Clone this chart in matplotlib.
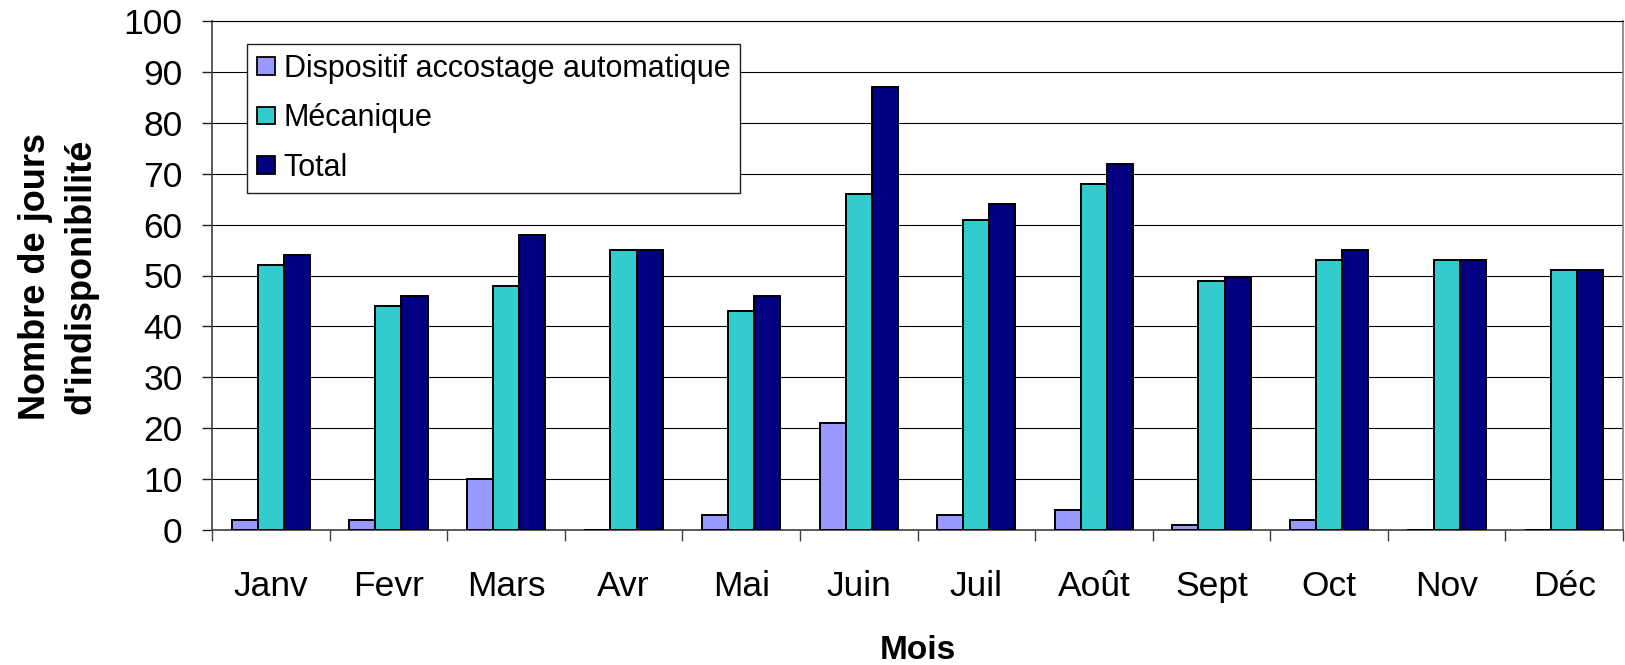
import matplotlib
matplotlib.use("Agg")
import matplotlib.pyplot as plt
import numpy as np

# ---- data ----
months = ["Janv", "Fevr", "Mars", "Avr", "Mai", "Juin", "Juil", "Août", "Sept", "Oct", "Nov", "Déc"]
dispositif = [2, 2, 10, 0, 3, 21, 3, 4, 1, 2, 0, 0]
mecanique = [52, 44, 48, 55, 43, 66, 61, 68, 49, 53, 53, 51]
total = [54, 46, 58, 55, 46, 87, 64, 72, 49.7, 55, 53, 51]
series_names = ["Dispositif accostage automatique", "Mécanique", "Total"]
series_colors = ["#9999FF", "#33CCCC", "#000080"]
yticks = [0, 10, 20, 30, 40, 50, 60, 70, 80, 90, 100]

plt.rcParams['font.family'] = ['Liberation Sans', 'DejaVu Sans']

W, H = 1625, 665
fig = plt.figure(figsize=(W / 100, H / 100), dpi=100)
ax = fig.add_axes([212 / W, 1 - 530 / H, (1623 - 212) / W, (530 - 21) / H])

x = np.arange(len(months))
bw = 1 / 4.5
for i, (vals, name, col) in enumerate(zip([dispositif, mecanique, total], series_names, series_colors)):
    ax.bar(x + (i - 1) * bw, vals, width=bw, color=col, edgecolor="black",
           linewidth=1.4, label=name, zorder=3)

ax.set_xlim(-0.5, len(months) - 0.5)
ax.set_ylim(0, 100)
ax.set_yticks(yticks)
ax.set_yticklabels([str(v) for v in yticks], fontsize=25.5)
ax.yaxis.grid(True, color="black", linewidth=0.8, zorder=0)
ax.set_axisbelow(True)

ax.set_xticks(x)
ax.set_xticklabels(months, fontsize=25.5)
ax.set_xticks(np.arange(-0.5, len(months)), minor=True)
ax.tick_params(axis="x", which="major", length=0, pad=28.5)
ax.tick_params(axis="x", which="minor", length=8, width=1, color="#404040", direction="out")
ax.tick_params(axis="y", which="major", length=7.2, width=1, color="#202020", direction="out", pad=14)

for s in ["left", "bottom"]:
    ax.spines[s].set_color("#404040")
    ax.spines[s].set_linewidth(1.2)
ax.spines["right"].set_color("#808080")
ax.spines["right"].set_linewidth(1.2)
ax.spines["top"].set_color("black")
ax.spines["top"].set_linewidth(0.8)

leg = ax.legend(loc="upper left", bbox_to_anchor=(247 / W, 1 - 44 / H),
                bbox_transform=fig.transFigure, borderaxespad=0, fontsize=22,
                frameon=True, fancybox=False, shadow=False, framealpha=1,
                edgecolor="#202020", handlelength=0.58, handleheight=0.52,
                handletextpad=0.3, labelspacing=0.64, borderpad=0.32)
leg.get_frame().set_linewidth(1.0)
for h in leg.legend_handles:
    h.set_linewidth(1.3)

fig.text(918 / W, 1 - 659 / H, "Mois", fontsize=24, fontweight="bold", ha="center", va="baseline")
fig.text(58 / W, 1 - 276 / H, "Nombre de jours\nd'indisponibilité", fontsize=26,
         fontweight="bold", ha="center", va="center", rotation=90,
         multialignment="center", linespacing=1.4)

fig.savefig("out.png", dpi=100)
